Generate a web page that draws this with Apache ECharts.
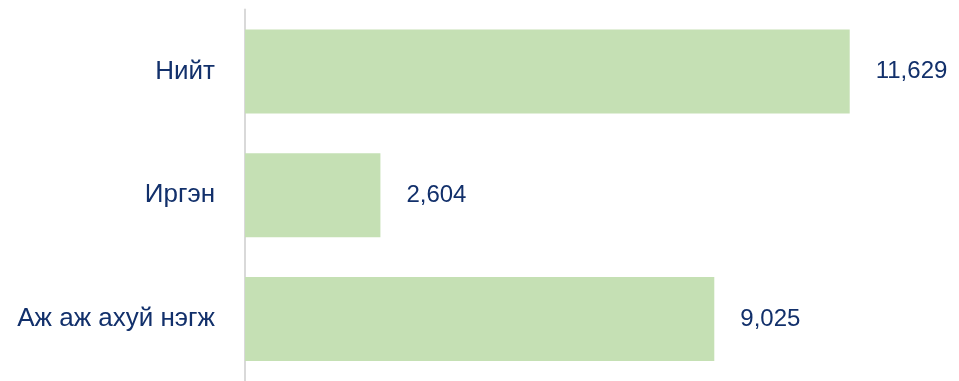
<!DOCTYPE html>
<html>
<head>
<meta charset="utf-8">
<script src="https://cdn.jsdelivr.net/npm/echarts@6/dist/echarts.min.js"></script>
<style>
  html, body { margin: 0; padding: 0; background: #ffffff; }
  #chart { width: 959px; height: 381px; }
</style>
</head>
<body>
<div id="chart"></div>
<script>
// Categories and their totals
const categories = ['Нийт', 'Иргэн', 'Аж аж ахуй нэгж'];
const values = [11629, 2604, 9025];

const textColor = '#12306b';
const fontFamily = '"Liberation Sans", Arial, sans-serif';

const chart = echarts.init(document.getElementById('chart'), null, { renderer: 'canvas' });

chart.setOption({
  backgroundColor: '#ffffff',
  animation: false,
  grid: { left: 245, top: 9.5, width: 676, height: 375, containLabel: false },
  xAxis: {
    type: 'value',
    min: 0,
    max: 13000,
    show: false
  },
  yAxis: {
    type: 'category',
    data: categories,
    inverse: true,
    axisLine: { show: true, lineStyle: { color: '#d9d9d9', width: 2 } },
    axisTick: { show: false },
    splitLine: { show: false },
    axisLabel: {
      color: textColor,
      fontFamily: fontFamily,
      fontSize: 26,
      margin: 30
    }
  },
  series: [{
    type: 'bar',
    data: values,
    barWidth: 84,
    itemStyle: { color: '#c5e0b4' },
    label: {
      show: true,
      position: 'right',
      distance: 26,
      color: textColor,
      fontFamily: fontFamily,
      fontSize: 24,
      formatter: p => p.value.toLocaleString('en-US')
    }
  }]
});
</script>
</body>
</html>
